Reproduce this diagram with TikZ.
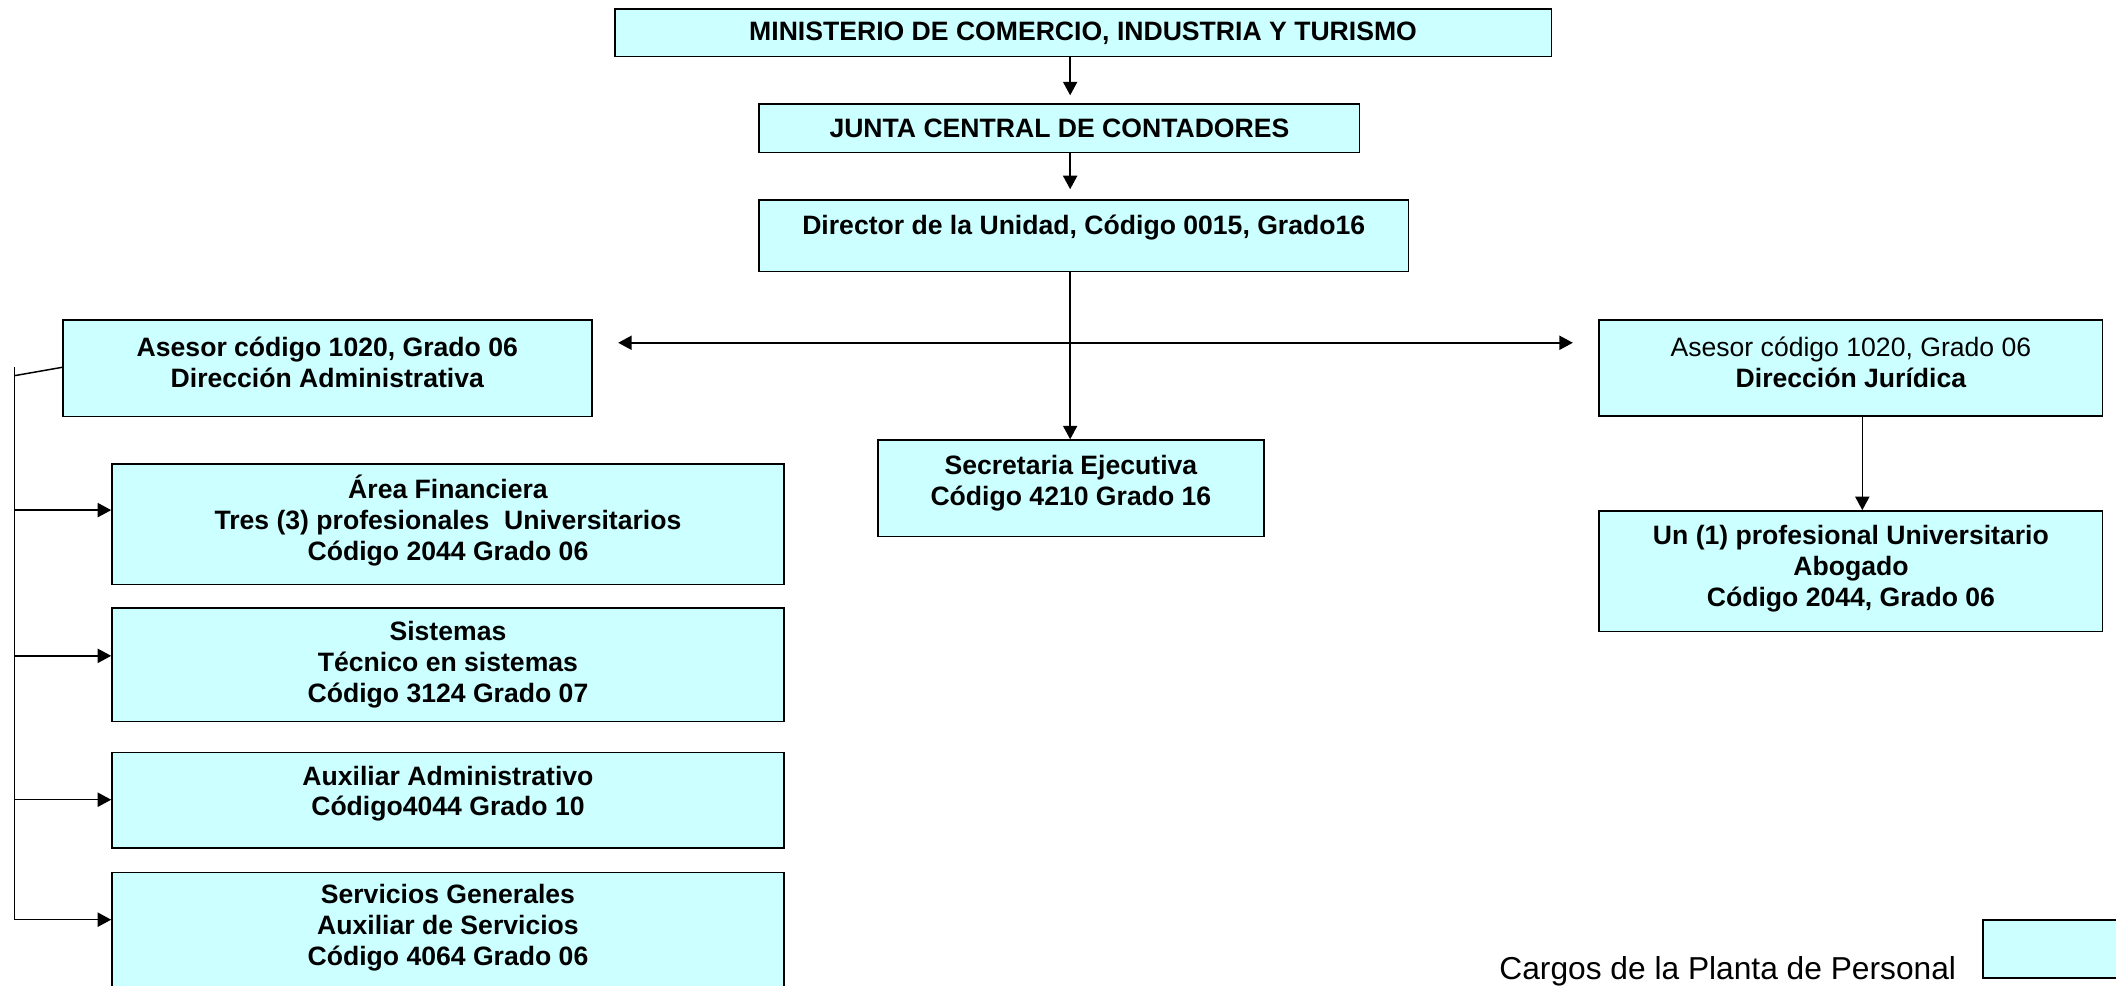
\documentclass[tikz,border=0pt]{standalone}
\usepackage{fontspec}
\setmainfont{Liberation Sans}
\usetikzlibrary{arrows.meta}
\definecolor{boxfill}{HTML}{CCFFFF}
\begin{document}
\begin{tikzpicture}[x=1pt, y=-1pt, line width=1.1pt,
  box/.style={draw=black, fill=boxfill, line width=1.1pt, inner sep=0pt, anchor=north west},
  txt/.style={font=\bfseries\fontsize{19.7pt}{22.8pt}\selectfont, align=center, inner sep=0pt},
  arr/.style={-{Triangle[length=10pt,width=10.5pt]}},
  darr/.style={{Triangle[length=10pt,width=10.5pt]}-{Triangle[length=10pt,width=10.5pt]}}]
\useasboundingbox (0,0) rectangle (1568,730.6);
\clip (0,0) rectangle (1568,730.6);

% boxes
\node[box, minimum width=694pt, minimum height=35.3pt] (min) at (455,6.2) {};
\node[txt] (mint) at (min.center) {MINISTERIO DE COMERCIO, INDUSTRIA Y TURISMO};

\node[box, minimum width=445pt, minimum height=35.8pt] (junta) at (562,76.6) {};
\node[txt] (juntat) at (junta.center) {JUNTA CENTRAL DE CONTADORES};

\node[box, minimum width=481pt, minimum height=53pt] (dir) at (562,147.7) {};
\node[txt, yshift=6pt] (dirt) at (dir.center) {Director de la Unidad, Código 0015, Grado16};

\node[box, minimum width=392pt, minimum height=71.6pt] (asl) at (46,236.4) {};
\node[txt, yshift=4pt] (aslt) at (asl.center) {Asesor código 1020, Grado 06\\Dirección Administrativa};

\node[box, minimum width=373pt, minimum height=71.2pt] (asr) at (1184.5,236.4) {};
\node[txt, yshift=4pt] (asrt) at (asr.center) {\mdseries Asesor código 1020, Grado 06\\Dirección Jurídica};

\node[box, minimum width=286pt, minimum height=71.5pt] (sec) at (650,325.5) {};
\node[txt, yshift=4pt] (sect) at (sec.center) {Secretaria Ejecutiva\\Código 4210 Grado 16};

\node[box, minimum width=373pt, minimum height=89.5pt] (un) at (1184.5,378) {};
\node[txt, yshift=2pt] (unt) at (un.center) {Un (1) profesional Universitario\\Abogado\\Código 2044, Grado 06};

\node[box, minimum width=498pt, minimum height=89.4pt] (area) at (82.4,343.3) {};
\node[txt, yshift=2.7pt] (areat) at (area.center) {Área Financiera\\Tres (3) profesionales\ \ Universitarios\\Código 2044 Grado 06};

\node[box, minimum width=498pt, minimum height=84pt] (sis) at (82.4,450) {};
\node[txt] (sist) at (sis.center) {Sistemas\\Técnico en sistemas\\Código 3124 Grado 07};

\node[box, minimum width=498pt, minimum height=71pt] (aux) at (82.4,557) {};
\node[txt, yshift=5pt] (auxt) at (aux.center) {Auxiliar Administrativo\\Código4044 Grado 10};

\node[box, minimum width=498pt, minimum height=90pt] (ser) at (82.4,646) {};
\node[txt, yshift=4.3pt] (sert) at (ser.center) {Servicios Generales\\Auxiliar de Servicios\\Código 4064 Grado 06};

\node[box, minimum width=130pt, minimum height=43pt] (leg) at (1469,681) {};
\node[anchor=base east, inner sep=0pt, font=\fontsize{23.5pt}{27pt}\selectfont] (legt) at (1450,726) {Cargos de la Planta de Personal};

% helper coordinates
\coordinate (ax) at (793,0);
\coordinate (rx) at (1380,0);
\coordinate (hy) at (0,254);
\coordinate (btop) at (10.6,272);
\coordinate (bj) at (10.6,278.4);
\coordinate (sy) at (0,272.2);
\coordinate (b1) at (10.6,378);
\coordinate (b2) at (10.6,486);
\coordinate (b3) at (10.6,592.6);
\coordinate (b4) at (10.6,681.5);

% connectors
\draw[arr, shorten >=6pt] (min.south -| ax) -- (junta.north -| ax);
\draw[arr, shorten >=7.5pt] (junta.south -| ax) -- (dir.north -| ax);
\draw[arr] (dir.south -| ax) -- (sec.north -| ax);
\draw[darr, shorten <=19pt, shorten >=19pt] (asl.east |- hy) -- (asr.west |- hy);
\draw[arr] (asr.south -| rx) -- (un.north -| rx);

\draw (btop) -- (b4);
\draw (bj) -- (asl.west |- sy);
\draw[arr] (b1) -- (area.west |- b1);
\draw[arr] (b2) -- (sis.west |- b2);
\draw[arr] (b3) -- (aux.west |- b3);
\draw[arr] (b4) -- (ser.west |- b4);
\end{tikzpicture}
\end{document}
